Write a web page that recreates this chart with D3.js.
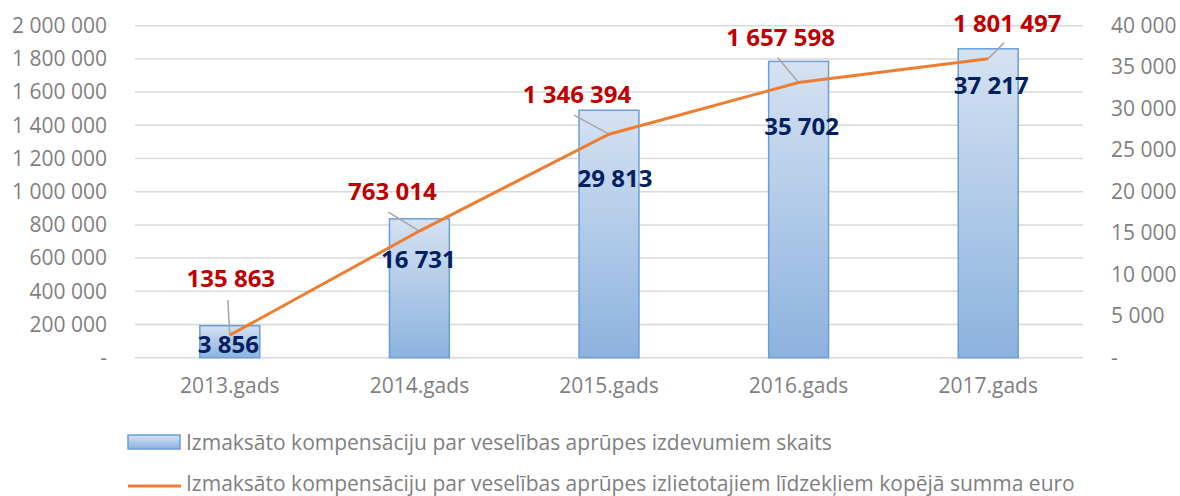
<!DOCTYPE html>
<html>
<head>
<meta charset="utf-8">
<script src="https://cdn.jsdelivr.net/npm/d3@7"></script>
<style>
  body { margin: 0; background: #fff; }
  svg { display: block; font-family: "Open Sans", sans-serif; }
</style>
</head>
<body>
<div id="chart"></div>
<script>
// Data
var years = ["2013.gads", "2014.gads", "2015.gads", "2016.gads", "2017.gads"];
var counts = [3856, 16731, 29813, 35702, 37217];            // bars, right axis
var sums = [135863, 763014, 1346394, 1657598, 1801497];     // line, left axis
var leftTicks = [0, 200000, 400000, 600000, 800000, 1000000, 1200000, 1400000, 1600000, 1800000, 2000000];
var rightTicks = [0, 5000, 10000, 15000, 20000, 25000, 30000, 35000, 40000];
var legendNames = [
  "Izmaksāto kompensāciju par veselības aprūpes izdevumiem skaits",
  "Izmaksāto kompensāciju par veselības aprūpes izlietotajiem līdzekļiem kopējā summa euro"
];

// manual label placement (offsets from the line point), as in the original
var sumLabelOffset = [[1, -57], [-27, -39], [-32, -40], [-18, -45], [19, -35]];
var leaderStart = [[-2, -35], [-31, -19], [-35, -19], [-21, -25], [16, -16]];
var countLabelOffset = [[-1.5, 9], [-1, 29], [6, 44], [3, 44], [3, 27]];

var W = 1180, H = 496;
var plot = { left: 135, right: 1083, top: 25.7, bottom: 357.7 };

var svg = d3.select("#chart").append("svg").attr("width", W).attr("height", H);

var defs = svg.append("defs");
var grad = defs.append("linearGradient").attr("id", "barGrad")
    .attr("x1", 0).attr("y1", 0).attr("x2", 0).attr("y2", 1);
grad.append("stop").attr("offset", "0%").attr("stop-color", "#d5e2f2");
grad.append("stop").attr("offset", "100%").attr("stop-color", "#8cb2de");

var x = d3.scaleBand().domain(years).range([plot.left, plot.right]);
var yL = d3.scaleLinear().domain([0, 2000000]).range([plot.bottom, plot.top]);
var yR = d3.scaleLinear().domain([0, 40000]).range([plot.bottom, plot.top]);

var loc = d3.formatLocale({ decimal: ",", thousands: "\u00a0", grouping: [3], currency: ["", ""] });
var fmt = function(v) { return v === 0 ? "-" : loc.format(",")(v); };

// gridlines
svg.append("g").selectAll("line").data(leftTicks).join("line")
    .attr("x1", plot.left).attr("x2", plot.right)
    .attr("y1", d => yL(d)).attr("y2", d => yL(d))
    .attr("stroke", "#d9d9d9").attr("stroke-width", 1.5);

// axes
var axL = svg.append("g").attr("transform", "translate(" + plot.left + ",0)")
    .call(d3.axisLeft(yL).tickValues(leftTicks).tickFormat(fmt).tickSize(0).tickPadding(28));
var axR = svg.append("g").attr("transform", "translate(" + plot.right + ",0)")
    .call(d3.axisRight(yR).tickValues(rightTicks).tickFormat(fmt).tickSize(0).tickPadding(28));
var axX = svg.append("g").attr("transform", "translate(0," + plot.bottom + ")")
    .call(d3.axisBottom(x).tickSize(0).tickPadding(20));
[axL, axR, axX].forEach(function(a) {
  a.select(".domain").remove();
  a.selectAll("text").attr("fill", "#7f7f7f").style("font-size", "21px")
      .style("font-family", "'Open Sans', sans-serif");
});

// bars
var bw = x.bandwidth() * 0.316;
svg.append("g").selectAll("rect").data(counts).join("rect")
    .attr("x", (d, i) => x(years[i]) + x.bandwidth() / 2 - bw / 2)
    .attr("y", d => yR(d))
    .attr("width", bw)
    .attr("height", d => plot.bottom - yR(d))
    .attr("fill", "url(#barGrad)")
    .attr("stroke", "#6a9fd8").attr("stroke-width", 1.5);

var cx = i => x(years[i]) + x.bandwidth() / 2;

// leader lines
svg.append("g").selectAll("line").data(sums).join("line")
    .attr("x1", (d, i) => cx(i) + leaderStart[i][0])
    .attr("y1", (d, i) => yL(d) + leaderStart[i][1])
    .attr("x2", (d, i) => cx(i)).attr("y2", d => yL(d))
    .attr("stroke", "#a6a6a6").attr("stroke-width", 1.5);

// line
var line = d3.line().x((d, i) => cx(i)).y(d => yL(d));
svg.append("path").datum(sums).attr("d", line)
    .attr("fill", "none").attr("stroke", "#ed7d31").attr("stroke-width", 3);

// labels
svg.append("g").selectAll("text").data(sums).join("text")
    .attr("x", (d, i) => cx(i) + sumLabelOffset[i][0])
    .attr("y", (d, i) => yL(d) + sumLabelOffset[i][1])
    .attr("dy", "0.35em").attr("text-anchor", "middle")
    .attr("fill", "#c00000").style("font-size", "24px").style("font-weight", "bold")
    .text(d => fmt(d));

svg.append("g").selectAll("text").data(counts).join("text")
    .attr("x", (d, i) => cx(i) + countLabelOffset[i][0])
    .attr("y", (d, i) => yL(sums[i]) + countLabelOffset[i][1])
    .attr("dy", "0.35em").attr("text-anchor", "middle")
    .attr("fill", "#002060").style("font-size", "24px").style("font-weight", "bold")
    .text(d => fmt(d));

// legend
var lg = svg.append("g");
lg.append("rect").attr("x", 128).attr("y", 435).attr("width", 52).attr("height", 14)
    .attr("fill", "url(#barGrad)").attr("stroke", "#6a9fd8").attr("stroke-width", 1.5);
lg.append("line").attr("x1", 128).attr("x2", 181).attr("y1", 486).attr("y2", 486)
    .attr("stroke", "#ed7d31").attr("stroke-width", 3);
lg.selectAll("text").data(legendNames).join("text")
    .attr("x", 186).attr("y", (d, i) => i === 0 ? 442.5 : 483.5)
    .attr("dy", "0.35em").attr("fill", "#7f7f7f").style("font-size", "21px")
    .text(d => d);
</script>
</body>
</html>
